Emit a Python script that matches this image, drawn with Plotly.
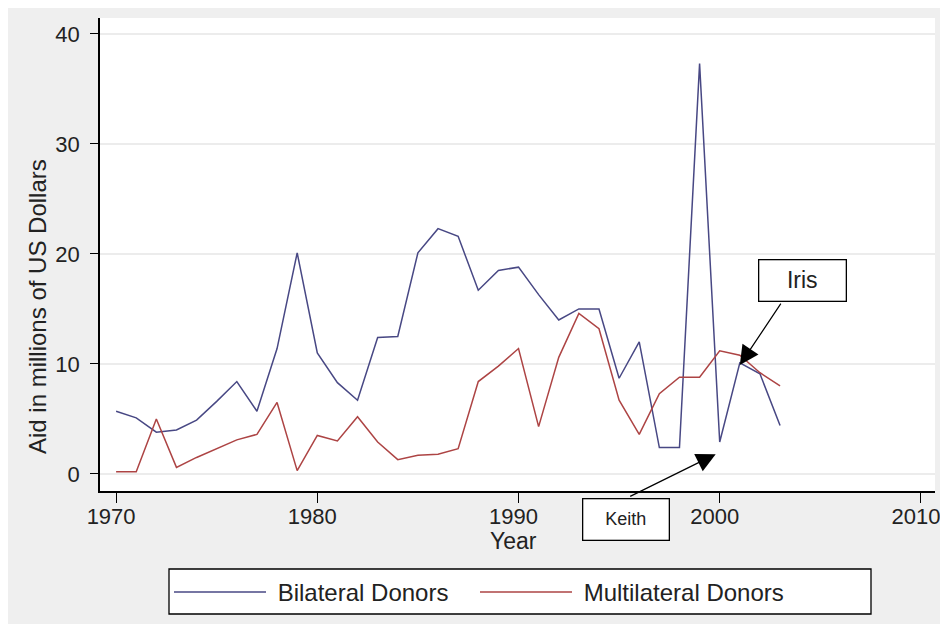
import plotly.graph_objects as go

years = list(range(1970, 2004))
bilateral = [5.7, 5.1, 3.8, 4.0, 4.9, 6.6, 8.4, 5.7, 11.4, 20.1,
             11.0, 8.3, 6.7, 12.4, 12.5, 20.1, 22.3, 21.6, 16.7, 18.5,
             18.8, 16.3, 14.0, 15.0, 15.0, 8.7, 12.0, 2.4, 2.4, 37.3,
             2.9, 10.1, 9.1, 4.4]
multilateral = [0.2, 0.2, 5.0, 0.6, 1.5, 2.3, 3.1, 3.6, 6.5, 0.3,
                3.5, 3.0, 5.2, 2.9, 1.3, 1.7, 1.8, 2.3, 8.4, 9.8,
                11.4, 4.3, 10.6, 14.6, 13.2, 6.7, 3.6, 7.3, 8.8, 8.8,
                11.2, 10.8, 9.2, 8.0]
x_ticks = [1970, 1980, 1990, 2000, 2010]
y_ticks = [0, 10, 20, 30, 40]
series_names = ["Bilateral Donors", "Multilateral Donors"]

FONT = "Liberation Sans, Arial, sans-serif"
BLUE = "#484884"
RED = "#ad4444"
TXT = "#222"

# plot area in page pixels (the page adds an 8px body margin)
L, R, T, B = 100, 935, 18, 491
PW, PH = R - L, B - T


def px(x):
    return (x - L) / PW


def py(y):
    return (B - y) / PH


fig = go.Figure()
fig.add_trace(go.Scatter(x=years, y=bilateral, mode="lines", name="\u00a0" + series_names[0],
                         line=dict(color=BLUE, width=1.5), legend="legend"))
fig.add_trace(go.Scatter(x=years, y=multilateral, mode="lines", name="\u00a0" + series_names[1],
                         line=dict(color=RED, width=1.5), legend="legend2"))

# Iris annotation
fig.add_annotation(x=2001, y=9.9, ax=42, ay=-63, text="", showarrow=True,
                   arrowhead=2, arrowsize=3.2, arrowwidth=1.2, arrowcolor="black")
fig.add_annotation(x=2004.1, y=17.6, text="Iris", showarrow=False,
                   font=dict(family=FONT, size=23, color=TXT),
                   bgcolor="white", bordercolor="black", borderwidth=1.3,
                   width=86, height=40, borderpad=0)
# Keith annotation
fig.add_annotation(x=1999.8, y=1.8, ax=-87, ay=43, text="", showarrow=True,
                   arrowhead=2, arrowsize=3.2, arrowwidth=1.2, arrowcolor="black")
fig.add_annotation(xref="paper", yref="paper", x=px(626), y=py(519), text="Keith",
                   xanchor="center", yanchor="middle",
                   showarrow=False, font=dict(family=FONT, size=18, color=TXT),
                   bgcolor="white", bordercolor="black", borderwidth=1.3,
                   width=85, height=40, borderpad=0)

# axis titles
fig.add_annotation(xref="paper", yref="paper", x=px(513), y=py(541),
                   xanchor="center", yanchor="middle",
                   text="Year", showarrow=False, font=dict(family=FONT, size=23, color=TXT))
fig.add_annotation(xref="paper", yref="paper", x=px(37), y=py(307),
                   xanchor="center", yanchor="middle",
                   text="Aid in millions of US Dollars", textangle=-90, showarrow=False,
                   font=dict(family=FONT, size=24, color=TXT))

# legend frame
fig.add_shape(type="rect", xref="paper", yref="paper", x0=px(169), x1=px(871),
              y0=py(614), y1=py(569), fillcolor="white",
              line=dict(color="black", width=1.3), layer="above")

legend_common = dict(orientation="h", xanchor="left", yanchor="top", borderwidth=0,
                     bgcolor="rgba(0,0,0,0)", font=dict(family=FONT, size=24, color=TXT),
                     itemwidth=92)

fig.update_layout(
    width=948, height=624,
    margin=dict(l=L - 8, r=948 - (R - 8), t=T - 8, b=624 - (B - 8), autoexpand=False),
    paper_bgcolor="#efefef", plot_bgcolor="white",
    font=dict(family=FONT, size=22, color=TXT),
    showlegend=True,
    legend=dict(x=px(169), y=py(570), **legend_common),
    legend2=dict(x=px(475), y=py(570), **legend_common),
    xaxis=dict(range=[1969.2, 2010.7], tickvals=x_ticks, ticks="outside", ticklen=10,
               tickcolor="black", showline=True, linecolor="black", linewidth=1.5,
               showgrid=False, zeroline=False, tickfont=dict(size=22),
               ticklabelstandoff=-5, ticklabelshift=-5),
    yaxis=dict(range=[-1.55, 41.45], tickvals=y_ticks, ticks="outside", ticklen=8,
               tickcolor="black", showline=True, linecolor="black", linewidth=1.5,
               showgrid=True, gridcolor="#ececec", gridwidth=1.5, zeroline=False,
               tickfont=dict(size=22), ticklabelstandoff=6),
)

fig.write_html("out.html")
